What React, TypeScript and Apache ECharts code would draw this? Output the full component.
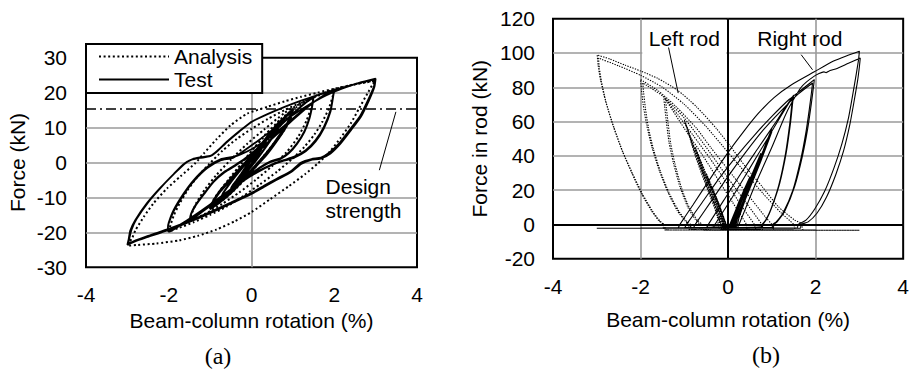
import React, { useEffect, useRef } from "react";
import * as echarts from "echarts";

type Pt = [number, number];

// ---------------- Panel (a): beam-column rotation (%) vs force (kN) ----------------
const rotationMin = -4;
const rotationMax = 4;
const rotationStep = 2;
const forceAMin = -30;
const forceAMax = 30;
const forceAStep = 10;
const designStrength = 15.4;

// Test (solid) – continuous loading history
const testSmallCycles: Pt[] = [
  [0, 0], [0.15, 2.6], [0.3, 5.4], [0.375, 6.9], [0.3, 5.2], [0.15, 2.4], [0, -0.3], [-0.15, -2.6], [-0.3, -4.4], [-0.375, -5.2], [-0.3, -4.0], [-0.15, -1.9], [0, 0.8],
  [0.15, 3.3], [0.3, 5.8], [0.375, 7.0], [0.3, 5.4], [0.15, 2.6], [0, -0.4], [-0.15, -2.8], [-0.3, -4.5], [-0.375, -5.3], [-0.3, -4.1], [-0.15, -2.0], [0, 0.7],
  [0.2, 4.0], [0.4, 7.6], [0.5, 9.2], [0.42, 7.6], [0.25, 4.3], [0.05, 0.5], [-0.15, -2.9], [-0.35, -5.6], [-0.5, -7.4], [-0.43, -6.1], [-0.25, -3.2], [-0.05, 0.4],
  [0.2, 4.3], [0.4, 7.8], [0.5, 9.3], [0.42, 7.5], [0.25, 4.1], [0.05, 0.3], [-0.15, -3.0], [-0.35, -5.8], [-0.5, -7.5], [-0.43, -6.2], [-0.25, -3.3], [-0.05, 0.3],
  [0.2, 4.5], [0.45, 8.5], [0.65, 11.3], [0.75, 12.6], [0.68, 10.8], [0.5, 7.2], [0.3, 3.8], [0.1, 0.6], [-0.15, -3.2], [-0.4, -6.4], [-0.6, -8.8], [-0.75, -10.4], [-0.68, -8.6], [-0.5, -5.6], [-0.3, -2.6], [-0.05, 1.0],
  [0.2, 4.8], [0.45, 8.6], [0.65, 11.4], [0.75, 12.5], [0.68, 10.6], [0.5, 7.0], [0.3, 3.6], [0.1, 0.4], [-0.15, -3.3], [-0.4, -6.5], [-0.6, -8.9], [-0.75, -10.5], [-0.68, -8.7], [-0.5, -5.7], [-0.3, -2.7], [-0.05, 0.9],
];
const test1pct: Pt[] = [
  [0.2, 4.2], [0.45, 8.2], [0.7, 11.8], [0.9, 14.2], [1.0, 15.3], [0.93, 13.0], [0.8, 10.0], [0.6, 6.6], [0.4, 3.4], [0.2, 0.6], [0, -2.0], [-0.25, -5.2], [-0.5, -8.2], [-0.75, -10.8], [-1.0, -13.0], [-0.93, -11.0], [-0.75, -7.8], [-0.5, -4.5], [-0.25, -1.2], [0, 2.0],
  [0.25, 5.2], [0.5, 8.9], [0.75, 12.3], [0.92, 14.3], [1.0, 15.1], [0.93, 12.7], [0.8, 9.7], [0.6, 6.2], [0.4, 3.0], [0.2, 0.3], [0, -2.3], [-0.25, -5.5], [-0.5, -8.5], [-0.75, -11.0], [-1.0, -13.2], [-0.93, -11.2], [-0.75, -8.1], [-0.5, -4.8], [-0.25, -1.5], [0, 1.7],
  [0.25, 4.9], [0.5, 8.6], [0.75, 12.0], [0.92, 14.1], [1.0, 14.9], [0.93, 12.4], [0.8, 9.4], [0.6, 5.9], [0.4, 2.7], [0.2, 0.0], [0, -2.6], [-0.25, -5.8], [-0.5, -8.8], [-0.75, -11.3], [-1.0, -13.4], [-0.93, -11.4], [-0.75, -8.3], [-0.5, -5.0], [-0.25, -1.7], [0, 1.6],
];
const test15pct: Pt[] = [
  [0.3, 5.6], [0.6, 9.4], [0.9, 12.8], [1.2, 16.0], [1.4, 18.0], [1.5, 19.0], [1.47, 16.5], [1.4, 12.8], [1.28, 9.0], [1.1, 5.5], [0.9, 2.8], [0.7, 1.2], [0.45, 0.3], [0.2, -1.4], [-0.1, -4.0], [-0.5, -7.8], [-0.9, -11.4], [-1.2, -14.0], [-1.4, -15.8], [-1.5, -16.6],
  [-1.46, -14.6], [-1.36, -12.3], [-1.15, -8.9], [-0.91, -5.3], [-0.65, -2.6], [-0.4, -0.8], [-0.15, 1.2], [0.1, 3.6],
  [0.4, 7.2], [0.7, 10.8], [1.0, 14.0], [1.25, 16.6], [1.5, 18.7], [1.47, 16.2], [1.4, 12.5], [1.28, 8.8], [1.1, 5.3], [0.9, 2.6], [0.7, 1.0], [0.45, 0.1], [0.2, -1.6], [-0.1, -4.2], [-0.5, -8.0], [-0.9, -11.6], [-1.2, -14.2], [-1.4, -16.0], [-1.5, -16.8],
  [-1.46, -14.8], [-1.36, -12.5], [-1.15, -9.1], [-0.91, -5.5], [-0.65, -2.8], [-0.4, -1.0], [-0.15, 1.0],
];
const test2pct: Pt[] = [
  [0.1, 2.4], [0.4, 5.8], [0.7, 9.0], [1.0, 12.2], [1.3, 15.3], [1.55, 17.7], [1.8, 19.6], [2.0, 21.0],
  [1.98, 19.6], [1.91, 15.0], [1.75, 10.2], [1.55, 6.4], [1.31, 3.5], [1.02, 1.6], [0.78, 0.7], [0.5, -0.5], [0.2, -2.2], [-0.2, -5.0], [-0.6, -8.5], [-1.0, -12.0], [-1.4, -15.3], [-1.75, -18.0], [-2.0, -19.7],
  [-2.02, -18.6], [-2.0, -17.2], [-1.88, -13.6], [-1.64, -8.9], [-1.4, -5.1], [-1.07, -1.3], [-0.75, 0.9], [-0.45, 1.6], [-0.25, 2.4], [0, 3.8],
  [0.4, 6.8], [0.8, 10.6], [1.1, 13.6], [1.4, 16.4], [1.7, 18.8], [2.0, 20.8],
  [1.98, 19.3], [1.91, 14.6], [1.75, 9.8], [1.55, 6.0], [1.31, 3.2], [1.02, 1.3], [0.78, 0.5], [0.5, -0.7], [0.2, -2.4], [-0.2, -5.3], [-0.6, -8.8], [-1.0, -12.3], [-1.4, -15.6], [-1.75, -18.2], [-2.0, -19.8],
  [-2.02, -18.8], [-2.0, -17.4], [-1.88, -13.9], [-1.64, -9.2], [-1.4, -5.4], [-1.07, -1.6], [-0.75, 0.6], [-0.45, 1.3],
];
const test3pct: Pt[] = [
  [-0.2, 3.2], [0.2, 6.6], [0.6, 10.2], [1.0, 13.6], [1.4, 16.6], [1.8, 19.2], [2.2, 21.2], [2.6, 22.8], [3.0, 24.0],
  [2.97, 21.6], [2.84, 17.8], [2.64, 13.0], [2.4, 9.2], [2.15, 5.4], [1.91, 2.6], [1.67, 1.1], [1.43, 0.7], [1.2, -0.4], [0.95, -2.8], [0.6, -5.0], [0.3, -7.0], [0, -9.0], [-0.5, -11.8], [-1.0, -14.5], [-1.5, -17.0], [-2.0, -19.3], [-2.5, -21.3], [-2.8, -22.5], [-3.0, -23.5],
  [-2.97, -22.0], [-2.93, -19.5], [-2.81, -16.5], [-2.53, -11.7], [-2.2, -7.2], [-1.88, -3.3], [-1.64, -0.5], [-1.45, 0.8], [-1.25, 1.3], [-1.0, 1.8], [-0.85, 3.0], [-0.6, 5.8], [-0.3, 8.8], [0, 11.6], [0.4, 13.9], [0.8, 15.9], [1.2, 17.7], [1.6, 19.3], [2.0, 20.8], [2.4, 22.1], [2.7, 23.0], [2.98, 23.8],
  [2.96, 21.8], [2.83, 18.2], [2.63, 13.4], [2.39, 9.6], [2.14, 5.8], [1.9, 3.0], [1.68, 1.4], [1.45, 1.0], [1.2, 0.0], [0.95, -2.5], [0.6, -4.7], [0.3, -6.7], [0, -8.7], [-0.5, -11.5], [-1.0, -14.2], [-1.5, -16.8], [-2.0, -19.0], [-2.5, -21.0], [-2.8, -22.3], [-2.98, -23.3],
  [-2.95, -21.6], [-2.9, -19.2], [-2.78, -16.2], [-2.5, -11.4], [-2.17, -6.9], [-1.85, -3.0], [-1.6, -0.2], [-1.42, 1.0], [-1.22, 1.5], [-0.98, 2.0], [-0.83, 3.3], [-0.58, 6.1], [-0.28, 9.1], [0, 11.7],
];

// Analysis (dotted)
const analysis1pct: Pt[] = [
  [0, 0], [0.3, 4.6], [0.6, 9.2], [0.85, 12.8], [1.0, 15.0], [0.95, 12.8], [0.8, 9.6], [0.55, 5.6], [0.25, 1.2], [-0.05, -3.2], [-0.35, -7.0], [-0.65, -10.2], [-0.85, -12.0], [-1.0, -13.4],
  [-0.95, -11.4], [-0.8, -8.6], [-0.55, -4.8], [-0.25, -0.4], [0.05, 4.0], [0.35, 8.2], [0.65, 11.6], [0.85, 13.6], [1.0, 15.0], [0.95, 12.6], [0.8, 9.4], [0.55, 5.4], [0.25, 1.0], [-0.05, -3.4], [-0.35, -7.2], [-0.65, -10.4], [-0.85, -12.2], [-1.0, -13.5],
  [-0.95, -11.5], [-0.8, -8.7], [-0.55, -4.9], [-0.25, -0.5], [0.05, 3.9],
];
const analysis15pct: Pt[] = [
  [0.35, 8.0], [0.7, 12.4], [1.1, 15.9], [1.5, 18.6], [1.45, 16.0], [1.33, 12.0], [1.13, 7.4], [0.85, 3.0], [0.5, -1.0], [0.1, -5.0], [-0.3, -8.6], [-0.7, -11.8], [-1.1, -14.6], [-1.5, -16.8],
  [-1.45, -14.8], [-1.33, -11.5], [-1.12, -7.6], [-0.85, -3.6], [-0.5, 0.8], [-0.1, 5.4], [0.3, 9.4],
];
const analysis2pct: Pt[] = [
  [0.8, 14.2], [1.2, 17.0], [1.6, 19.1], [2.0, 20.8], [1.96, 18.8], [1.87, 15.5], [1.72, 11.8], [1.52, 8.0], [1.28, 4.5], [0.98, 1.0], [0.62, -2.6], [0.2, -6.3], [-0.2, -9.6], [-0.6, -12.6], [-1.0, -15.0], [-1.4, -17.1], [-1.75, -18.7], [-2.0, -19.8],
  [-1.96, -18.0], [-1.88, -15.2], [-1.74, -11.8], [-1.55, -8.0], [-1.3, -4.0], [-1.02, -0.4], [-0.7, 3.4], [-0.35, 6.8], [0, 9.6], [0.4, 12.5], [0.8, 15.0], [1.2, 17.2], [1.6, 19.3], [2.0, 20.9],
];
const analysis3pct: Pt[] = [
  [2.4, 22.2], [2.75, 23.0], [3.0, 23.5], [2.92, 22.2], [2.8, 19.7], [2.6, 15.5], [2.4, 11.2], [2.15, 7.0], [1.9, 3.2], [1.6, -0.3], [1.3, -3.3], [0.9, -6.8], [0.45, -10.5], [0, -14.2], [-0.4, -16.8], [-0.85, -19.2], [-1.3, -21.0], [-1.75, -22.3], [-2.3, -23.2], [-2.75, -23.6], [-3.0, -23.8],
  [-2.95, -22.8], [-2.88, -21.5], [-2.8, -19.3], [-2.6, -15.5], [-2.37, -11.7], [-2.04, -7.4], [-1.72, -4.0], [-1.36, -0.2], [-1.15, 2.6], [-0.85, 6.6], [-0.5, 10.7], [-0.1, 14.0], [0.4, 16.0], [0.8, 17.5], [1.2, 18.8], [1.6, 20.0], [2.0, 21.1], [2.4, 22.1], [2.75, 22.9], [3.0, 23.4],
];

// ---------------- Panel (b): beam-column rotation (%) vs force in rod (kN) ----------------
const forceBMin = -20;
const forceBMax = 120;
const forceBStep = 20;

// Right rod (solid)
const rightRodSmall: Pt[] = [
  [0, 0], [0.03, -0.5], [0.2, 9.5], [0.375, 20.5], [0.22, 11], [0.05, 0], [0.03, -1.2], [-0.375, -1.6], [0.03, -1.2], [0.04, 0], [0.2, 10], [0.375, 20.8], [0.22, 11.5], [0.06, 0], [0.04, -1.2], [-0.375, -1.6],
  [0.04, -1.2], [0.05, 0], [0.3, 15], [0.5, 27.5], [0.32, 17], [0.07, 0.5], [0.05, -1.2], [-0.5, -1.7], [0.05, -1.2], [0.06, 0], [0.3, 15.2], [0.5, 27.8], [0.32, 17.5], [0.08, 0.5], [0.06, -1.2], [-0.5, -1.7],
  [0.06, -1.2], [0.08, 0], [0.4, 20], [0.75, 41], [0.55, 29], [0.3, 13.5], [0.1, 0.5], [0.08, -1.3], [-0.75, -1.8], [0.08, -1.3], [0.1, 0], [0.4, 19], [0.75, 41.5], [0.55, 29.5], [0.3, 14], [0.12, 0.5], [0.1, -1.3], [-0.75, -1.8],
];
const rightRod1pct: Pt[] = [
  [0.1, -1.3], [0.12, 0], [0.4, 17], [0.7, 36], [1.0, 56], [0.8, 43], [0.5, 24], [0.2, 4], [0.13, -1.4], [-1, -1.9],
  [0.12, -1.4], [0.14, 0], [0.45, 19], [0.75, 38], [1.0, 55], [0.8, 42], [0.5, 23], [0.22, 4], [0.15, -1.4], [-1, -1.9],
  [0.14, -1.4], [0.16, 0], [0.45, 18], [0.75, 37], [1.0, 54], [0.8, 41], [0.5, 22], [0.25, 4], [0.18, -1.5], [-1, -1.9],
];
const rightRod15pct: Pt[] = [
  [-0.5, -1.9], [-0.45, 0], [-0.1, 14], [0.3, 30], [0.7, 45], [1.1, 60], [1.3, 68], [1.5, 75.5], [1.48, 72], [1.43, 60], [1.33, 42], [1.18, 24], [1.0, 10], [0.88, 3], [0.8, 0], [0.78, -1.6], [-1.5, -2],
  [-0.35, -2], [-0.3, 0], [0.1, 16], [0.5, 33], [0.9, 50], [1.2, 63], [1.48, 74.5], [1.46, 71], [1.41, 59], [1.31, 41], [1.16, 23], [0.98, 9], [0.86, 2.5], [0.78, 0], [0.76, -1.6], [-1.5, -2],
];
const rightRod2pct: Pt[] = [
  [-1.0, -2], [-0.95, 0], [-0.6, 12.5], [-0.2, 27], [0.2, 40], [0.6, 52], [1.0, 63], [1.4, 73], [1.7, 79], [1.97, 84.5], [1.95, 80], [1.9, 70], [1.82, 56], [1.7, 40], [1.52, 22], [1.3, 8], [1.12, 1.5], [1.05, 0], [1.03, -1.8], [-2, -2.1],
  [-0.8, -2.1], [-0.75, 0], [-0.4, 13], [0, 28], [0.4, 42], [0.8, 55], [1.2, 66], [1.6, 76], [1.93, 82.5], [1.91, 78], [1.86, 68], [1.78, 54], [1.66, 38], [1.48, 20], [1.26, 7], [1.1, 1.5], [1.02, 0], [1.0, -1.8], [-2, -2.1],
];
const rightRod3pct: Pt[] = [
  [-1.15, -2.1], [-1.1, 0], [-0.8, 11.5], [-0.4, 27], [0, 42], [0.35, 54], [0.7, 65], [1.05, 74], [1.45, 81.5], [1.97, 89], [2.41, 95.3], [2.7, 98.3], [3.0, 101],
  [2.98, 96], [2.93, 88], [2.85, 76], [2.75, 62], [2.6, 47], [2.42, 33], [2.2, 19], [1.98, 9], [1.78, 2.5], [1.6, 0], [1.58, -2], [-3, -2.2],
  [0.2, -2.2], [0.25, 0], [0.6, 22], [1.0, 45], [1.35, 66], [1.67, 80], [1.97, 86.5], [2.19, 89], [2.24, 88.5], [2.3, 89.4], [2.49, 91], [2.75, 94], [3.02, 97],
  [3.0, 92], [2.96, 84], [2.88, 72], [2.78, 58], [2.64, 43], [2.46, 29], [2.25, 16], [2.03, 6.5], [1.83, 1.5], [1.67, 0], [1.65, -2.2], [-3, -2.2],
];

// Left rod (dotted)
const leftRodSmall: Pt[] = [
  [0, 0], [-0.03, -0.5], [-0.2, 10.5], [-0.375, 22], [-0.22, 12.5], [-0.05, 0.5], [-0.03, -2.5], [0.375, -2.8], [-0.03, -2.5], [-0.04, 0], [-0.2, 10.8], [-0.375, 22.3], [-0.22, 12.8], [-0.06, 0.5], [-0.04, -2.5], [0.375, -2.8],
  [-0.04, -2.5], [-0.05, 0], [-0.3, 16], [-0.5, 29.5], [-0.32, 18.5], [-0.07, 0.5], [-0.05, -2.6], [0.5, -2.9], [-0.05, -2.6], [-0.06, 0], [-0.3, 16.3], [-0.5, 29.8], [-0.32, 18.8], [-0.08, 0.5], [-0.06, -2.6], [0.5, -2.9],
  [-0.06, -2.6], [-0.08, 0], [-0.4, 21], [-0.75, 44.5], [-0.55, 32], [-0.3, 15], [-0.1, 0.5], [-0.08, -2.7], [0.75, -3.0], [-0.08, -2.7], [-0.1, 0], [-0.4, 20.5], [-0.75, 45], [-0.55, 32.5], [-0.3, 15.5], [-0.12, 0.5], [-0.1, -2.7], [0.75, -3.0],
];
const leftRod1pct: Pt[] = [
  [-0.1, -2.7], [-0.12, 0], [-0.4, 18], [-0.7, 39], [-1.0, 61], [-0.8, 47], [-0.5, 26], [-0.2, 5], [-0.13, -2.8], [1, -3.1],
  [-0.12, -2.8], [-0.14, 0], [-0.45, 20], [-0.75, 41], [-0.99, 60], [-0.8, 46], [-0.5, 25], [-0.22, 5], [-0.15, -2.8], [1, -3.1],
  [-0.14, -2.8], [-0.16, 0], [-0.45, 19], [-0.75, 40], [-0.97, 59], [-0.78, 45], [-0.5, 25], [-0.25, 5], [-0.18, -2.8], [1, -3.1],
];
const leftRod15pct: Pt[] = [
  [0.65, -3.1], [0.6, 0], [0.3, 11], [0, 23], [-0.4, 38], [-0.8, 52], [-1.15, 64], [-1.47, 74.5], [-1.45, 69], [-1.41, 60], [-1.35, 48], [-1.25, 36], [-1.1, 22], [-0.92, 10], [-0.75, 3], [-0.65, 0], [-0.63, -3], [1.5, -3.2],
  [0.45, -3.2], [0.42, 0], [0.1, 13], [-0.2, 25], [-0.6, 41], [-1.0, 56], [-1.43, 73], [-1.41, 68], [-1.37, 59], [-1.31, 47], [-1.21, 35], [-1.06, 21], [-0.88, 9.5], [-0.7, 2.5], [-0.6, 0], [-0.58, -3], [1.5, -3.2],
];
const leftRod2pct: Pt[] = [
  [1.05, -3.2], [1.0, 0], [0.85, 4.4], [0.4, 19], [0, 32], [-0.4, 45], [-0.72, 56], [-1.2, 69], [-1.6, 78], [-2.0, 84.5], [-1.98, 79], [-1.94, 70], [-1.86, 58], [-1.74, 45], [-1.58, 32], [-1.38, 19], [-1.16, 8], [-0.98, 2], [-0.9, 0], [-0.88, -3], [2, -3.3],
  [0.8, -3.3], [0.77, 0], [0.4, 13], [0, 27], [-0.5, 45], [-1.0, 62], [-1.5, 75], [-1.95, 82.5], [-1.93, 77], [-1.89, 68], [-1.82, 56.5], [-1.7, 43.5], [-1.54, 30.5], [-1.34, 18], [-1.12, 7.5], [-0.94, 1.5], [-0.86, 0], [-0.84, -3], [2, -3.3],
];
const leftRod3pct: Pt[] = [
  [1.72, -3.3], [1.67, 0.6], [1.52, 2.5], [1.15, 10.3], [0.78, 22], [0.4, 33.6], [0.03, 46.3], [-0.27, 56], [-0.72, 68.6], [-1.16, 78.4], [-1.61, 85.2], [-2.0, 89.5], [-2.35, 92.9], [-2.7, 96.5], [-2.99, 98.8],
  [-2.97, 93], [-2.92, 85], [-2.8, 72], [-2.62, 57], [-2.42, 43], [-2.2, 30], [-1.98, 18], [-1.75, 8], [-1.58, 2], [-1.48, 0], [-1.45, -3.2], [3, -3.4],
  [1.55, -3.4], [1.5, 0], [1.2, 7], [0.8, 18], [0.4, 30], [0, 42], [-0.5, 57], [-1.0, 70], [-1.5, 80], [-2.0, 87], [-2.5, 92.5], [-2.96, 97],
  [-2.94, 91], [-2.89, 83], [-2.78, 70.5], [-2.6, 56], [-2.4, 42], [-2.17, 29], [-1.95, 17.5], [-1.72, 7.5], [-1.55, 1.8], [-1.45, -0.3], [-1.42, -3.2], [3, -3.4],
];

// Annotation anchors (data coordinates)
const designLabelAt: Pt = [1.79, -10.4];
const designLeader: Pt[] = [[3.09, -2.2], [3.49, 14.5]];
const leftRodLabelAt: Pt = [-1.0, 108.7];
const leftRodBox: Pt[] = [[-1.96, 119.4], [-0.04, 97.6]];
const leftRodLeader: Pt[] = [[-1.36, 103.2], [-1.14, 76.6]];
const rightRodLabelAt: Pt = [1.64, 108.7];
const rightRodLeader: Pt[] = [[1.67, 99], [1.93, 90.2]];

const FONT = "Liberation Sans";
const GRID_GREY = "#9a9a9a";

export default function App() {
  const ref = useRef<HTMLDivElement>(null);

  useEffect(() => {
    const el = ref.current;
    if (!el) return;
    const chart = echarts.init(el, null, { renderer: "svg", width: 912, height: 371 });

    const testPath = [...testSmallCycles, ...test1pct, ...test15pct, ...test2pct, ...test3pct];
    const analysisPath = [...analysis1pct, ...analysis15pct, ...analysis2pct, ...analysis3pct];
    const rightRodPath = [...rightRodSmall, ...rightRod1pct, ...rightRod15pct, ...rightRod2pct, ...rightRod3pct];
    const leftRodPath = [...leftRodSmall, ...leftRod1pct, ...leftRod15pct, ...leftRod2pct, ...leftRod3pct];

    const labelStyle = { fontSize: 21, color: "#000", fontFamily: FONT };
    const splitGrey = { show: true, showMinLine: false, showMaxLine: false, lineStyle: { color: GRID_GREY, width: 1.6 } };

    chart.setOption({
      animation: false,
      backgroundColor: "#fff",
      grid: [
        { left: 86, top: 57.7, width: 331, height: 209.6, show: true, borderColor: "#000", borderWidth: 2, backgroundColor: "transparent" },
        { left: 553, top: 18.7, width: 358, height: 240, show: true, borderColor: "#000", borderWidth: 2, backgroundColor: "transparent" },
      ],
      xAxis: [
        {
          gridIndex: 0, type: "value", min: rotationMin, max: rotationMax, interval: rotationStep,
          axisLine: { show: false }, axisTick: { show: false }, splitLine: { show: false },
          axisLabel: { ...labelStyle, margin: 17 },
          name: "Beam-column rotation (%)", nameLocation: "middle", nameGap: 41, nameTextStyle: labelStyle,
        },
        {
          gridIndex: 1, type: "value", min: rotationMin, max: rotationMax, interval: rotationStep,
          axisLine: { show: false }, axisTick: { show: false }, splitLine: splitGrey,
          axisLabel: { ...labelStyle, margin: 17 },
          name: "Beam-column rotation (%)", nameLocation: "middle", nameGap: 50, nameTextStyle: labelStyle,
        },
      ],
      yAxis: [
        {
          gridIndex: 0, type: "value", min: forceAMin, max: forceAMax, interval: forceAStep,
          axisLine: { show: false }, axisTick: { show: false }, splitLine: splitGrey,
          axisLabel: { ...labelStyle, margin: 19 },
          name: "Force (kN)", nameLocation: "middle", nameGap: 58, nameTextStyle: labelStyle,
        },
        {
          gridIndex: 1, type: "value", min: forceBMin, max: forceBMax, interval: forceBStep,
          axisLine: { show: false }, axisTick: { show: false }, splitLine: splitGrey,
          axisLabel: { ...labelStyle, margin: 18 },
          name: "Force in rod (kN)", nameLocation: "middle", nameGap: 63, nameTextStyle: labelStyle,
        },
      ],
      legend: {
        data: ["Analysis", "Test"],
        orient: "vertical",
        left: 86,
        top: 44,
        itemWidth: 70,
        itemHeight: 14,
        itemGap: 2,
        padding: [2, 10, 3, 12],
        backgroundColor: "#fff",
        borderColor: "#000",
        borderWidth: 2,
        borderRadius: 0,
        selectedMode: false,
        itemStyle: { opacity: 0 },
        textStyle: { fontSize: 21, color: "#000", fontFamily: FONT },
        z: 10,
      },
      series: [
        {
          name: "Analysis", type: "line", xAxisIndex: 0, yAxisIndex: 0, data: analysisPath,
          symbol: "none", smooth: 0.2, lineStyle: { color: "#000", width: 2, type: [2, 2.6] },
          markLine: {
            silent: true, symbol: ["none", "none"], label: { show: false }, z: 1,
            lineStyle: { color: GRID_GREY, width: 1.6, type: "solid" },
            data: [{ xAxis: 0 }],
          },
        },
        {
          name: "Test", type: "line", xAxisIndex: 0, yAxisIndex: 0, data: testPath,
          symbol: "none", smooth: 0.2, lineStyle: { color: "#000", width: 1.8 },
          markLine: {
            silent: true, symbol: ["none", "none"], label: { show: false },
            lineStyle: { color: "#000", width: 1.6, type: [10, 4, 2, 4] },
            data: [{ yAxis: designStrength }],
          },
        },
        {
          name: "Left rod", type: "line", xAxisIndex: 1, yAxisIndex: 1, data: leftRodPath,
          symbol: "none", smooth: 0.2, lineStyle: { color: "#000", width: 1.1, type: [1.3, 1.3] },
        },
        {
          name: "Right rod", type: "line", xAxisIndex: 1, yAxisIndex: 1, data: rightRodPath,
          symbol: "none", smooth: 0.2, lineStyle: { color: "#000", width: 1.1 },
          markLine: {
            silent: true, symbol: ["none", "none"], label: { show: false }, z: 1,
            lineStyle: { color: "#000", width: 2, type: "solid" },
            data: [{ xAxis: 0 }, { yAxis: 0 }],
          },
        },
      ],
    });

    const px = (g: number, p: Pt) => chart.convertToPixel({ gridIndex: g }, p) as number[];
    const textStyle = (text: string, align: string) => ({
      text, fill: "#000", fontSize: 21, fontFamily: FONT, align, verticalAlign: "middle", lineHeight: 24,
    });

    const d = px(0, designLabelAt);
    const dl0 = px(0, designLeader[0]);
    const dl1 = px(0, designLeader[1]);
    const lb0 = px(1, leftRodBox[0]);
    const lb1 = px(1, leftRodBox[1]);
    const lt = px(1, leftRodLabelAt);
    const ll0 = px(1, leftRodLeader[0]);
    const ll1 = px(1, leftRodLeader[1]);
    const rt = px(1, rightRodLabelAt);
    const rl0 = px(1, rightRodLeader[0]);
    const rl1 = px(1, rightRodLeader[1]);

    chart.setOption({
      graphic: {
        elements: [
          { type: "text", x: d[0], y: d[1], z: 20, style: textStyle("Design\nstrength", "left") },
          { type: "line", z: 20, shape: { x1: dl0[0], y1: dl0[1], x2: dl1[0], y2: dl1[1] }, style: { stroke: "#000", lineWidth: 1 } },
          { type: "rect", z: 15, shape: { x: lb0[0], y: lb0[1], width: lb1[0] - lb0[0], height: lb1[1] - lb0[1] }, style: { fill: "#fff" } },
          { type: "text", x: lt[0], y: lt[1], z: 20, style: textStyle("Left rod", "center") },
          { type: "line", z: 20, shape: { x1: ll0[0], y1: ll0[1], x2: ll1[0], y2: ll1[1] }, style: { stroke: "#000", lineWidth: 1 } },
          { type: "text", x: rt[0], y: rt[1], z: 20, style: textStyle("Right rod", "center") },
          { type: "line", z: 20, shape: { x1: rl0[0], y1: rl0[1], x2: rl1[0], y2: rl1[1] }, style: { stroke: "#000", lineWidth: 1 } },
          { type: "text", x: 218, y: 356, z: 20, style: { text: "(a)", fill: "#000", fontSize: 24, fontFamily: "Liberation Serif", align: "center", verticalAlign: "middle" } },
          { type: "text", x: 766, y: 355, z: 20, style: { text: "(b)", fill: "#000", fontSize: 24, fontFamily: "Liberation Serif", align: "center", verticalAlign: "middle" } },
        ],
      },
    });

    return () => chart.dispose();
  }, []);

  return (
    <div
      ref={ref}
      style={{ position: "fixed", left: 0, top: 0, width: 912, height: 371, background: "#fff" }}
    />
  );
}
